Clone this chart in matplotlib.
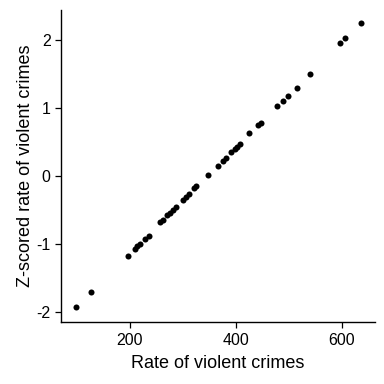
import numpy as np
import matplotlib.pyplot as plt

plt.rcParams['font.family'] = ['Liberation Sans', 'DejaVu Sans']
plt.rcParams['axes.unicode_minus'] = False

# rate of violent crimes and its z-scored version
rate = [100, 128, 197, 210, 215, 220, 230, 236, 258, 263, 270, 276, 282, 288,
        300, 306, 312, 322, 326, 348, 367, 376, 382, 392, 398, 403, 408, 425,
        443, 448, 478, 490, 498, 515, 540, 597, 606, 637]
zrate = [-1.93, -1.70, -1.18, -1.07, -1.03, -1.00, -0.92, -0.88, -0.68, -0.65,
         -0.58, -0.54, -0.50, -0.45, -0.36, -0.31, -0.27, -0.18, -0.15, 0.02,
         0.15, 0.22, 0.27, 0.35, 0.39, 0.43, 0.47, 0.63, 0.75, 0.78, 1.03,
         1.10, 1.17, 1.30, 1.50, 1.95, 2.03, 2.25]

fig = plt.figure(figsize=(3.84, 3.84), dpi=100)
ax = fig.add_axes([0.159, 0.161, 0.818, 0.813])
ax.scatter(rate, zrate, s=19, color='black', linewidths=0)

ax.set_xlim(71, 663)
ax.set_ylim(-2.15, 2.44)
ax.set_xticks([200, 400, 600])
ax.set_yticks([-2, -1, 0, 1, 2])
ax.set_xlabel('Rate of violent crimes', fontsize=13, labelpad=5)
ax.set_ylabel('Z-scored rate of violent crimes', fontsize=13, labelpad=2)
ax.tick_params(labelsize=11.5, length=4, width=0.9, color='black', labelcolor='black')
for side in ['top', 'right']:
    ax.spines[side].set_visible(False)
for side in ['left', 'bottom']:
    ax.spines[side].set_linewidth(1.0)

fig.savefig('out.png', dpi=100)
